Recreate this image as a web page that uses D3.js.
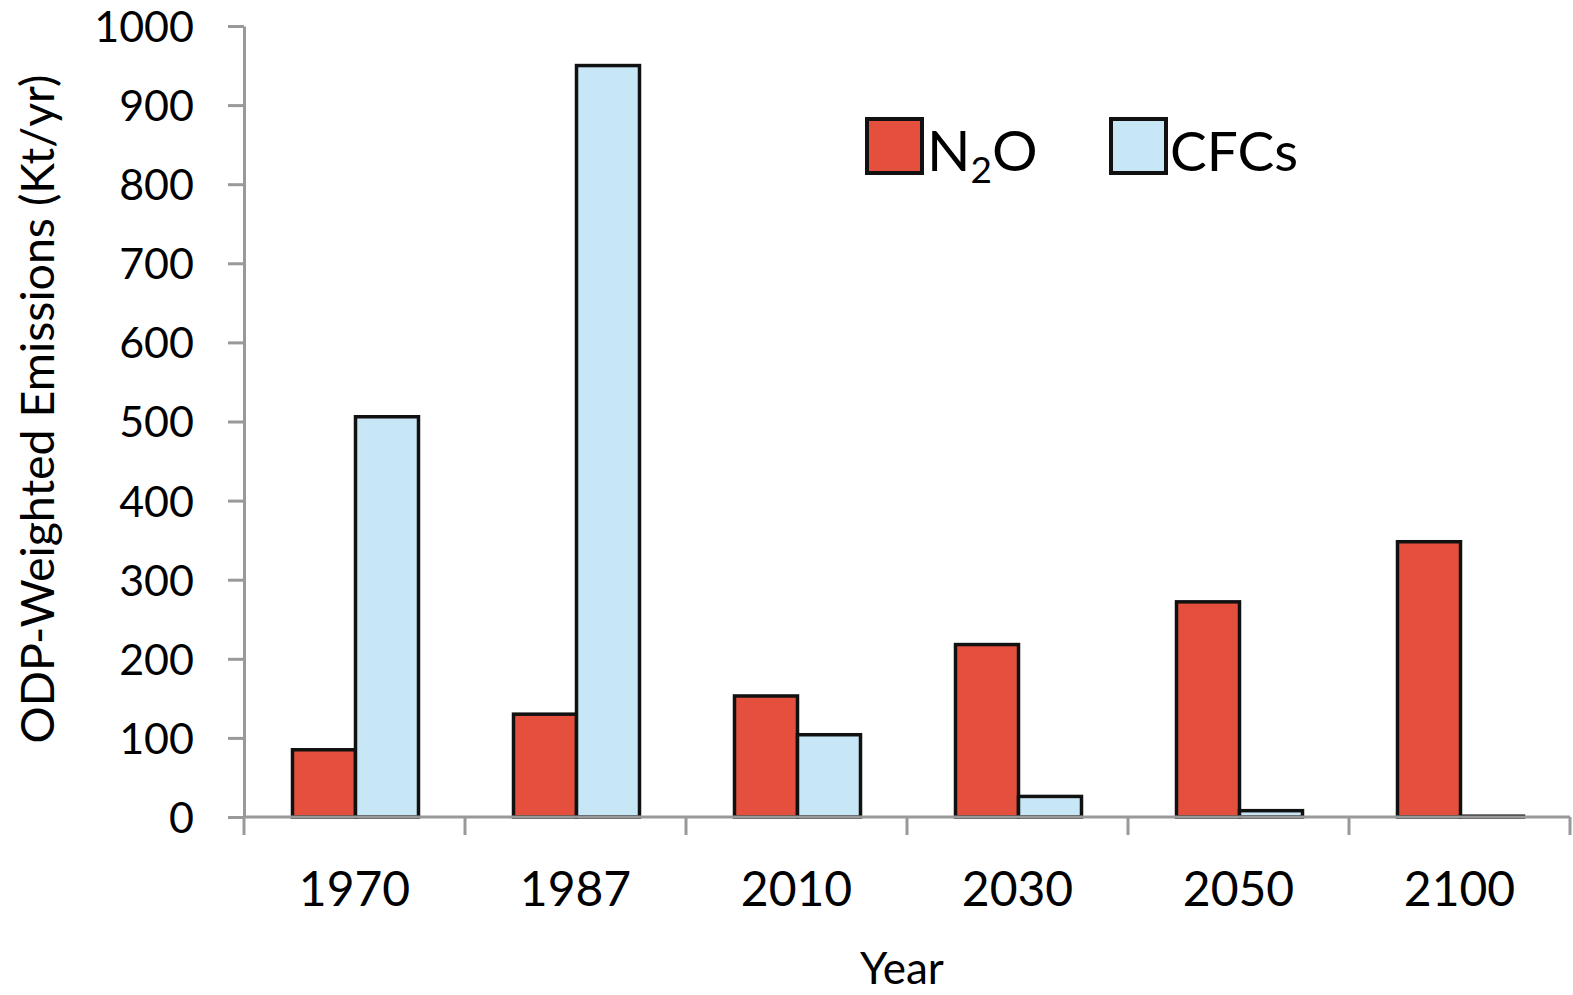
<!DOCTYPE html>
<html>
<head>
<meta charset="utf-8">
<script src="https://cdn.jsdelivr.net/npm/d3@7"></script>
<style>
  body { margin: 0; background: #fff; }
  svg { display: block; font-family: Lato, "Open Sans", sans-serif; }
  .axis path, .axis line { stroke: #999; stroke-width: 3; }
  .axis text { fill: #000; }
</style>
</head>
<body>
<svg width="1573" height="995"></svg>
<script>
const years = ["1970", "1987", "2010", "2030", "2050", "2100"];
const n2o = [85, 130, 153, 218, 272, 348];
const cfcs = [506, 950, 104, 26, 8, 1];
const seriesNames = ["N2O", "CFCs"];
const seriesColors = ["#e5503e", "#c8e7f6"];
const yTicks = [0, 100, 200, 300, 400, 500, 600, 700, 800, 900, 1000];

const svg = d3.select("svg");
const plotLeft = 244, plotRight = 1570, plotTop = 26, plotBottom = 817;

const x0 = d3.scaleBand().domain(years).range([plotLeft, plotRight]).padding(0);
const x1 = d3.scaleBand().domain(seriesNames).range([0, x0.bandwidth()]).paddingInner(0).paddingOuter(0.754);
const y = d3.scaleLinear().domain([0, 1000]).range([plotBottom, plotTop]);

const rows = years.map((yr, i) => ({ year: yr, values: [n2o[i], cfcs[i]] }));

// bars
svg.append("g")
  .selectAll("g")
  .data(rows)
  .join("g")
  .attr("transform", (d) => `translate(${x0(d.year) + 1},0)`)
  .selectAll("rect")
  .data((d) => d.values.map((v, j) => ({ key: seriesNames[j], value: v, color: seriesColors[j] })))
  .join("rect")
  .attr("x", (d) => x1(d.key))
  .attr("width", x1.bandwidth())
  .attr("y", (d) => y(d.value))
  .attr("height", (d) => y(0) - y(d.value))
  .attr("fill", (d) => d.color)
  .attr("stroke", "#111")
  .attr("stroke-width", 3.5);

// y axis
const yAxis = svg.append("g")
  .attr("class", "axis")
  .attr("transform", `translate(${plotLeft},0)`)
  .call(d3.axisLeft(y).tickValues(yTicks).tickFormat(d3.format("d")).tickSize(16).tickPadding(34).tickSizeOuter(0))
  .attr("font-family", null)
  .attr("font-size", null);
yAxis.selectAll("text").style("font-size", "43px").attr("dy", "0.36em");

// x axis (ticks at band edges)
const xAxis = svg.append("g")
  .attr("class", "axis")
  .attr("transform", `translate(0,${plotBottom})`);
xAxis.append("line").attr("x1", plotLeft).attr("x2", plotRight).attr("y1", 0).attr("y2", 0);
xAxis.selectAll(".edge")
  .data(years.map((yr) => x0(yr)).concat([plotRight]))
  .join("line")
  .attr("class", "edge")
  .attr("x1", (d) => d).attr("x2", (d) => d)
  .attr("y1", 0).attr("y2", 18);
xAxis.selectAll(".lbl")
  .data(years)
  .join("text")
  .attr("class", "lbl")
  .attr("x", (d) => x0(d) + x0.bandwidth() / 2)
  .attr("y", 906 - plotBottom)
  .attr("text-anchor", "middle")
  .style("font-size", "48px")
  .text((d) => d);

// axis titles
svg.append("text")
  .attr("transform", "translate(54,409) rotate(-90)")
  .attr("text-anchor", "middle")
  .style("font-size", "46.5px")
  .text("ODP-Weighted Emissions (Kt/yr)");

svg.append("text")
  .attr("x", 902)
  .attr("y", 984)
  .attr("text-anchor", "middle")
  .style("font-size", "44px")
  .text("Year");

// legend
const legend = svg.append("g");
const legendItems = [
  { x: 867, color: seriesColors[0] },
  { x: 1111, color: seriesColors[1] }
];
legend.selectAll("rect")
  .data(legendItems)
  .join("rect")
  .attr("x", (d) => d.x)
  .attr("y", 119)
  .attr("width", 55)
  .attr("height", 54)
  .attr("fill", (d) => d.color)
  .attr("stroke", "#111")
  .attr("stroke-width", 4);

const t1 = legend.append("text").attr("x", 927).attr("y", 171).style("font-size", "57px");
t1.append("tspan").text("N");
t1.append("tspan").attr("dy", 12).style("font-size", "37px").text("2");
t1.append("tspan").attr("dy", -12).text("O");

legend.append("text").attr("x", 1170).attr("y", 171).style("font-size", "55px").text("CFCs");
</script>
</body>
</html>
